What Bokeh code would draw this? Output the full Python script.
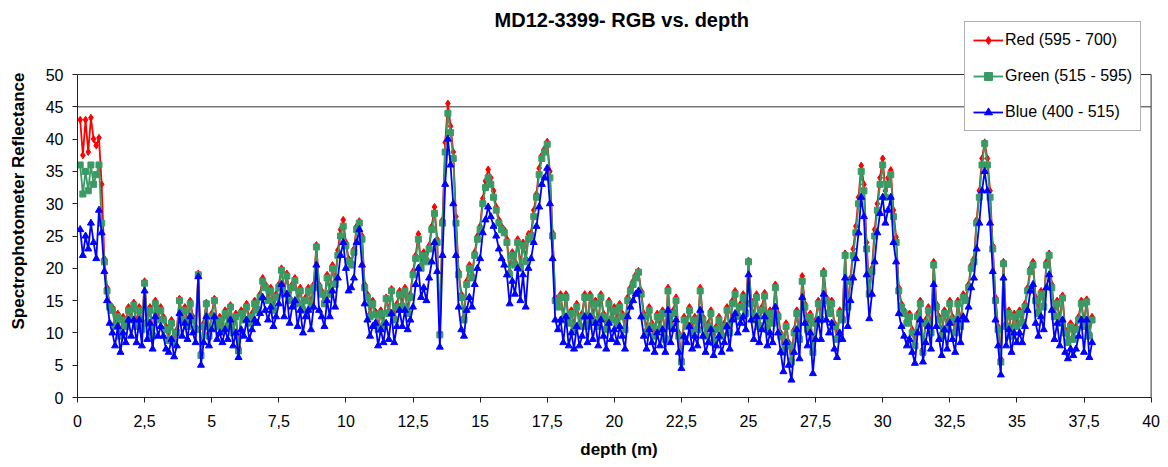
from bokeh.plotting import figure
from bokeh.models import Range1d, FixedTicker, Legend, LegendItem, Label
from bokeh.embed import file_html
from bokeh.resources import INLINE

# depth sampling grid (m)
depth = [round(0.1 * (i + 1), 1) for i in range(378)]

red = [
    43, 37.5, 43, 38, 43.3, 40, 39, 40.2, 33, 21.5,
    17, 14.5, 14, 11.5, 13, 10, 12.5, 11.5, 14, 12.5,
    14.7, 11.5, 14, 11, 18, 12, 14, 10, 15, 12.5,
    14, 12.5, 11, 9.2, 12, 9, 10.5, 15.3, 12.5, 14,
    11.5, 15, 12.5, 11, 19.2, 7, 11.5, 14.7, 10, 13,
    15.3, 11.5, 12.5, 11, 13.5, 11.5, 14.3, 10.5, 13, 7.8,
    13.5, 12.5, 14.5, 12, 13, 15, 14, 16, 18.5, 17.5,
    15.5, 17, 14, 16, 17.5, 20, 16.5, 19.2, 15.5, 17.5,
    18.5, 15, 17, 14, 15.5, 17, 14.5, 17.5, 23.6, 17.5,
    16.5, 15, 19, 16.5, 20.5, 18, 22.8, 26, 27.5, 24,
    21.5, 21, 23, 26.5, 27.3, 25, 17.5, 16, 13, 15,
    13.3, 11, 13.5, 11.5, 15.5, 13.5, 16.8, 12.5, 14.5, 16.5,
    14.5, 17, 13.5, 16, 19.5, 22, 25.3, 20.5, 22.5, 21.5,
    23.5, 26.5, 29.5, 24.5, 10, 27.5, 39.5, 45.5, 42, 38,
    28, 19.5, 16, 12.5, 18, 20.5, 19, 22.5, 25, 26.5,
    30.8, 33.5, 35.3, 34, 32, 29.5, 27.5, 26.5, 26, 24.5,
    19.5, 22.5, 21, 24.5, 20.5, 24, 21.5, 25.3, 25.5, 29,
    31.5, 35.5, 37.5, 38.5, 39.6, 35, 25.5, 15.5, 14.5, 16,
    12.5, 16, 12, 13.5, 11, 14.5, 11.5, 13, 16, 11.5,
    16, 12.5, 15, 11.5, 16, 13, 11, 15, 12.5, 14,
    12, 14.5, 13, 11, 15.5, 17, 18, 19, 19.6, 16.5,
    13, 10.5, 14, 11.5, 10, 13, 11, 13.5, 9.5, 17,
    11.5, 13.5, 15.5, 10, 6, 12.5, 11.5, 14, 10.5, 12.5,
    11, 17, 12.5, 10, 11.5, 13.5, 9, 11, 12.5, 10,
    11.5, 14, 10.5, 15, 16.5, 13, 14.5, 16, 13.5, 21.2,
    15, 12.5, 16, 11.5, 14, 16.2, 11, 13.5, 12, 17.5,
    13, 10, 7.5, 11.5, 8.5, 6, 10.5, 13.5, 9.5, 18.8,
    14.5, 11, 13, 7.5, 12, 15, 12.5, 19.6, 15.5, 13.5,
    15, 11.5, 9.5, 13.5, 12.5, 22.3, 14.5, 18.5, 23, 26.5,
    31, 35.9, 33, 24, 16.5, 20, 26, 30, 34, 37,
    32, 34, 35.2, 29, 24.8, 17, 14.5, 13.5, 12, 13,
    10.5, 8.5, 13, 15, 7.5, 12, 14, 10.5, 21, 14.5,
    12.5, 10, 13.5, 11, 15, 12.5, 10.5, 15, 11.5, 16,
    15.5, 17.5, 20.5, 21.5, 27.5, 32, 37, 39.5, 37, 32,
    23.5, 15.5, 11, 6, 21, 11.5, 13.5, 10, 13, 11.5,
    13.5, 12, 14.5, 17, 20, 21, 15.5, 13.5, 16.5, 14.5,
    21, 22.3, 17.5, 13, 15, 12, 15.8, 10.5, 9, 11.5,
    9.5, 11, 12.5, 15, 11.5, 15.2, 10, 12.5,
]

green = [
    36, 31.5, 35, 32, 36, 33, 34.5, 36, 27, 21,
    16.5, 14, 13.5, 11, 12.5, 9.5, 12, 11, 13.5, 12,
    14.3, 11, 13.5, 10.5, 17.7, 11.5, 13.5, 9.5, 14.5, 12,
    13.5, 12, 10.5, 8.8, 11.5, 8.5, 10, 15, 12, 13.5,
    11, 14.5, 12, 10.5, 19, 6.5, 11, 14.5, 9.5, 12.5,
    15, 11, 12, 10.5, 13, 11, 14, 10, 12.5, 7.2,
    13, 12, 14, 11.5, 12.5, 14.5, 13.5, 15.5, 18, 17,
    15, 16.5, 13.5, 15.5, 17, 19.7, 16, 18.8, 15, 17,
    18.1, 14.5, 16.5, 13.5, 15, 16.5, 14, 17, 23.3, 17,
    16, 14.5, 18.5, 16, 20, 17.5, 22, 25, 26.5, 23.5,
    21, 20.5, 22.5, 26, 27, 24.5, 17, 15.5, 12.5, 14.5,
    12.8, 10.5, 13, 11, 15.3, 13, 16.5, 12, 14, 16,
    14, 16.5, 13, 15.5, 19, 21.5, 24.5, 20, 22, 21,
    23, 26, 28.5, 24, 9.7, 27, 38, 44, 41, 37,
    27, 19, 15.5, 12, 17.5, 20, 18.5, 22, 24.5, 26,
    30, 32.5, 34, 33, 31, 29, 27, 26, 25.5, 24,
    19, 22, 20.5, 24, 20, 23.5, 21, 24.5, 25, 28,
    31, 34.5, 37, 38, 39.2, 34, 25, 15, 14, 15.5,
    12, 15.5, 11.5, 13, 10.5, 14, 11, 12.5, 15.5, 11,
    15.5, 12, 14.5, 11, 15.5, 12.5, 10.5, 14.5, 12, 13.5,
    11.5, 14, 12.5, 10.5, 15, 16.5, 17.5, 18.5, 19.4, 16,
    12.5, 10, 13.5, 11, 9.5, 12.5, 10.5, 13, 9, 16.5,
    11, 13, 15, 9.5, 5.5, 12, 11, 13.5, 10, 12,
    10.5, 16.5, 12, 9.5, 11, 13, 8.5, 10.5, 12, 9.5,
    11, 13.5, 10, 14.5, 16, 12.5, 14, 15.5, 13, 21,
    14.5, 12, 15.5, 11, 13.5, 15.7, 10.5, 13, 11.5, 17,
    12.5, 9.5, 7, 11, 8, 5.5, 10, 13, 9, 18,
    14, 10.5, 12.5, 7, 11.5, 14.5, 12, 19.2, 15, 13,
    14.5, 11, 9, 13, 12, 22, 14, 18, 22, 25.5,
    30, 35, 32, 23, 16, 19.5, 25, 29, 33, 36,
    31, 33, 34.5, 28, 24, 16.5, 14, 13, 11.5, 12.5,
    10, 8, 12.5, 14.5, 7, 11.5, 13.5, 10, 20.5, 14,
    12, 9.5, 13, 10.5, 14.5, 12, 10, 14.5, 11, 15.5,
    15, 17, 20, 21, 27, 31, 36, 39.3, 36, 31,
    23, 15, 10.5, 5.5, 20.7, 11, 13, 9.5, 12.5, 11,
    13, 11.5, 14, 16.5, 19.5, 20.5, 15, 13, 16, 14,
    20.5, 22, 17, 12.5, 14.5, 11.5, 15.4, 10, 8.5, 11,
    9, 10.5, 12, 14.5, 11, 14.8, 9.5, 12,
]

blue = [
    26, 22, 25, 23, 27, 24, 21.5, 29, 25.5, 19.5,
    15, 11.5, 10, 8, 11, 7, 10, 8.5, 12, 9.5,
    12, 8.5, 12, 8, 16.5, 9, 11.5, 7.5, 12.5, 9.5,
    11, 9.5, 7.5, 7, 9, 6.3, 8, 13, 9.5, 11.5,
    9, 12.5, 10, 8.5, 18.7, 5, 8.5, 12.5, 8, 10.5,
    12.5, 9, 10, 8.5, 10.5, 9, 12, 8, 10, 6.2,
    10.5, 9.5, 12, 9, 10.5, 12, 11.5, 13, 15.5, 13.5,
    12, 14, 11, 12.5, 14.5, 17.5, 12.5, 16, 11.5, 14,
    15, 11, 13.5, 10, 12.5, 13.5, 10.5, 14, 20.5, 13.5,
    12.5, 11, 15, 12.5, 16.5, 14, 18.5, 22, 24, 20,
    16.5, 17, 18.5, 24, 26, 20.5, 14.5, 12, 9.5, 11,
    11.5, 8, 10.5, 8.5, 11.5, 9, 13, 8.5, 11, 13.5,
    11, 13.5, 10.5, 12, 14, 17.5, 20, 15.5, 17, 15,
    18.5, 21, 24, 19.5, 7.8, 22, 33, 40, 36, 30,
    22, 14, 10.5, 9.5, 13.5, 15.5, 14, 17.5, 20, 21.5,
    25.5, 27.5, 29.5, 28, 26.5, 25, 23, 21.5, 20.5, 19,
    14.5, 18, 16, 20, 15, 19, 14, 20, 21.5, 24,
    26.5, 29.5, 33, 34, 35.5, 30, 21.5, 12, 10.5, 12,
    8.5, 12.5, 8, 10, 7.5, 11, 8, 9.5, 12.5, 8.5,
    12.5, 9, 11.5, 8, 12, 9.5, 7.5, 11.5, 9, 10.5,
    8.5, 11, 9.5, 7.5, 12.5, 14, 15, 16, 16.5, 12.5,
    9.5, 7.5, 10.5, 8.5, 7, 10, 8, 10.5, 7, 13.5,
    8.5, 10.5, 12, 7, 4.5, 9.5, 8.5, 11, 7.5, 9.5,
    8, 13.5, 9.5, 7, 8.5, 10.5, 6.5, 8, 9.5, 7,
    8.5, 11, 7.5, 12, 13, 10, 11.5, 12.5, 10.5, 19,
    12, 9, 12.5, 8.5, 10.5, 12.5, 8, 10, 8.5, 14,
    10, 7, 4, 8.5, 5, 2.7, 7, 10.5, 6, 15.5,
    11.5, 8, 10, 3.7, 9, 12, 9, 16, 12, 10,
    11.5, 7.5, 6.2, 10, 9, 18.5, 11, 15, 18.5, 21.5,
    25.5, 31, 28, 19, 12.2, 16, 21, 25.5, 28.5, 31,
    27, 29, 31, 24, 21, 13, 11, 9.5, 8, 9,
    7, 5.3, 10, 12, 5.5, 8.5, 11, 7.5, 17.5, 11,
    9, 6.5, 10.5, 7.5, 11.5, 9, 7, 12, 8.5, 12.5,
    12, 14, 17, 18.5, 23, 27, 32, 35, 32, 27,
    19.5, 12, 8, 3.5, 18.5, 8, 10.5, 7, 10, 8.5,
    10, 8.5, 11, 13.5, 16.5, 17.5, 11.5, 9.5, 12.5, 10.5,
    17, 19, 13.5, 9, 11.5, 8, 12, 7, 6, 7.5,
    6.5, 7.5, 9.5, 12, 7, 12, 6.2, 8.5,
]

x_ticks = [0, 2.5, 5, 7.5, 10, 12.5, 15, 17.5, 20, 22.5, 25, 27.5, 30, 32.5, 35, 37.5, 40]
y_ticks = [0, 5, 10, 15, 20, 25, 30, 35, 40, 45, 50]
series_names = ["Red (595 - 700)", "Green (515 - 595)", "Blue (400 - 515)"]
title_text = "MD12-3399- RGB vs. depth"

X_MIN, X_MAX = 0, 40
Y_MIN, Y_MAX = 0, 50
GRID_Y = 45

FONT = "Liberation Sans"
C_RED = "#FF0000"
C_GREEN = "#3A9A64"
C_BLUE = "#0000FF"
C_FRAME = "#303030"

# frame covers the whole upper area so title/legend are not clipped;
# axes and border lines are bounded to the 0-40 x 0-50 plot area
X_END = 40.35
Y_END = 60.84

p = figure(width=1168, height=467, output_backend="svg", toolbar_location=None,
           x_range=Range1d(0, X_END), y_range=Range1d(0, Y_END),
           min_border_left=77, min_border_right=8, min_border_top=4,
           min_border_bottom=70, background_fill_color="white",
           border_fill_color="white")

p.outline_line_color = None
p.xgrid.grid_line_color = None
p.ygrid.grid_line_color = None

# axes
p.xaxis.ticker = FixedTicker(ticks=x_ticks)
p.xaxis.major_label_overrides = {t: (str(t).replace(".", ",") if t != int(t) else str(int(t))) for t in x_ticks}
p.xaxis.bounds = (X_MIN, X_MAX)
p.yaxis.ticker = FixedTicker(ticks=y_ticks)
p.yaxis.bounds = (Y_MIN, Y_MAX)
for ax in (p.xaxis[0], p.yaxis[0]):
    ax.axis_line_color = "#202020"
    ax.major_tick_line_color = "#202020"
    ax.major_tick_out = 5
    ax.major_tick_in = 0
    ax.minor_tick_line_color = None
    ax.major_label_text_font = FONT
    ax.major_label_text_font_size = "16px"
    ax.major_label_text_color = "black"
    ax.axis_label_text_font = FONT
    ax.axis_label_text_font_size = "17px"
    ax.axis_label_text_font_style = "bold"
    ax.axis_label_text_color = "black"

p.xaxis.axis_label = "depth (m)"
p.xaxis.major_label_standoff = 12
p.xaxis.axis_label_standoff = 10
p.yaxis.axis_label = "Spectrophotometer Reflectance"
p.yaxis.major_label_standoff = 9
p.yaxis.axis_label_standoff = 15

# plot-area border (top, right) and the single gridline at 45
p.segment(x0=[X_MIN, X_MIN, X_MAX], y0=[GRID_Y, Y_MAX, Y_MIN],
          x1=[X_MAX, X_MAX, X_MAX], y1=[GRID_Y, Y_MAX, Y_MAX],
          line_color=C_FRAME, line_width=1)

# series
r_line = p.line(depth, red, line_color=C_RED, line_width=1.8)
r_pts = p.scatter(depth, red, marker="diamond", size=7, fill_color=C_RED, line_color=C_RED)
g_line = p.line(depth, green, line_color=C_GREEN, line_width=1.8)
g_pts = p.scatter(depth, green, marker="square", size=6, fill_color=C_GREEN, line_color=C_GREEN)
b_line = p.line(depth, blue, line_color=C_BLUE, line_width=1.8)
b_pts = p.scatter(depth, blue, marker="triangle", size=7, fill_color=C_BLUE, line_color=C_BLUE)

legend = Legend(items=[
    LegendItem(label=series_names[0], renderers=[r_line, r_pts]),
    LegendItem(label=series_names[1], renderers=[g_line, g_pts]),
    LegendItem(label=series_names[2], renderers=[b_line, b_pts]),
], location=(887, 266))
legend.label_text_font = FONT
legend.label_text_font_size = "16px"
legend.label_text_color = "black"
legend.padding = 8
legend.margin = 0
legend.spacing = 16
legend.label_height = 20
legend.glyph_height = 20
legend.glyph_width = 30
legend.label_standoff = 2
legend.border_line_color = "#606060"
legend.border_line_width = 1
legend.background_fill_color = "white"
legend.background_fill_alpha = 1
p.add_layout(legend, "center")

title = Label(x=20.28, y=58.5, text=title_text, text_align="center",
              text_baseline="middle", text_font=FONT, text_font_size="20px",
              text_font_style="bold", text_color="black")
p.add_layout(title)

open("out.html", "w").write(file_html(p, INLINE))
